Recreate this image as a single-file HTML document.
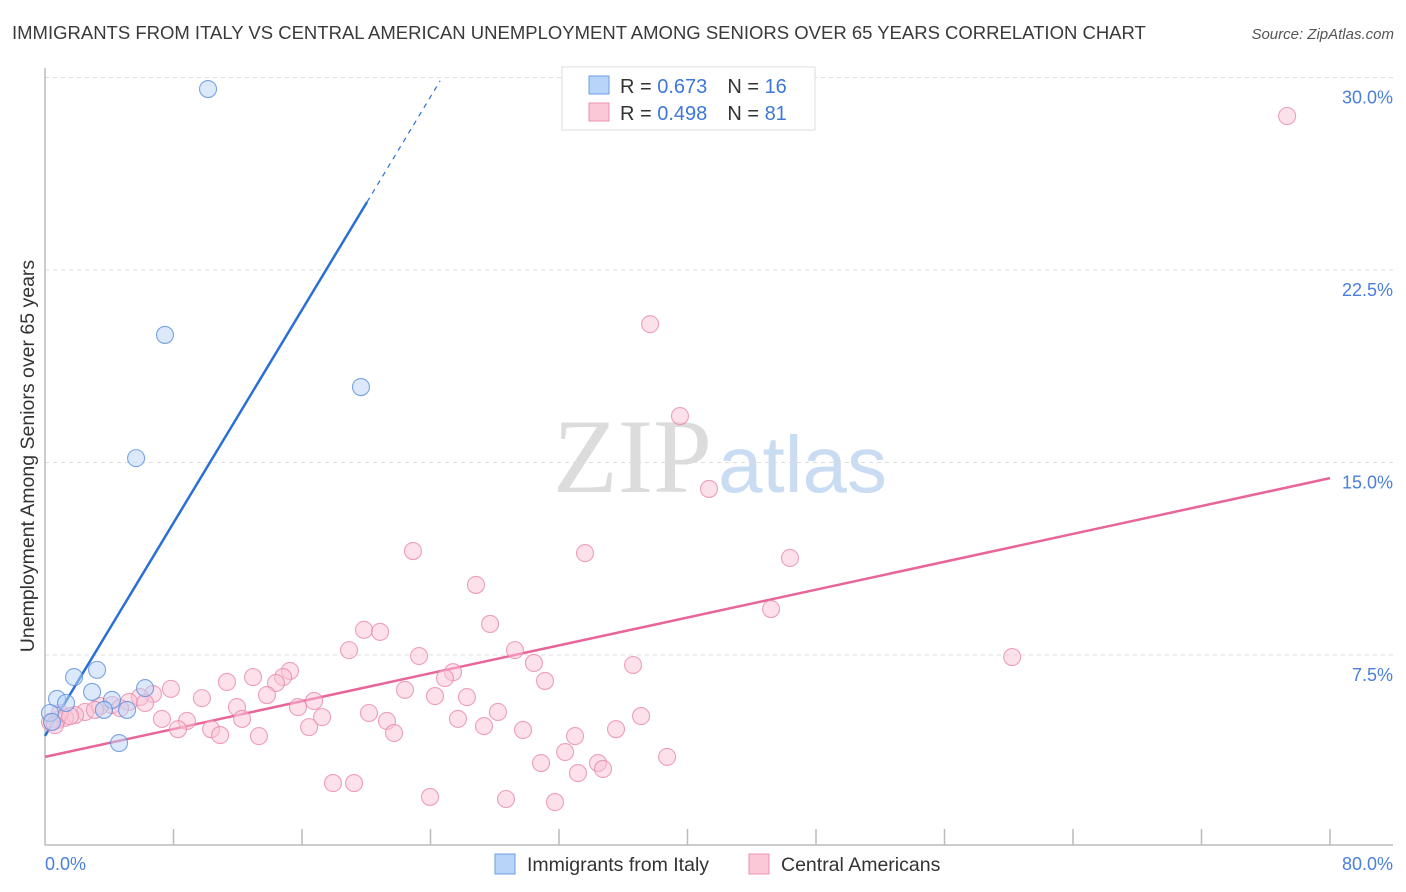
<!DOCTYPE html>
<html><head><meta charset="utf-8"><style>
body{margin:0;background:#fff;font-family:"Liberation Sans",sans-serif;}
svg{display:block}
</style></head><body>
<svg id="chart" width="1406" height="892" xmlns="http://www.w3.org/2000/svg">
<text x="12" y="39" font-size="18.5" fill="#3a3a3a">IMMIGRANTS FROM ITALY VS CENTRAL AMERICAN UNEMPLOYMENT AMONG SENIORS OVER 65 YEARS CORRELATION CHART</text>
<text x="1394" y="39" font-size="15" fill="#555" font-style="italic" text-anchor="end">Source: ZipAtlas.com</text>
<g>
<text x="553" y="492" font-family="Liberation Serif,serif" font-size="106" fill="#dcdcdc">ZIP</text>
<text x="718" y="492" font-size="80" fill="#c9dcf2">atlas</text>
</g>
<g id="grid"></g>
<g id="axes"></g>
<g id="lines"></g>
<g id="points"></g>
<g>
<rect x="562" y="67" width="253" height="63" fill="#fff" stroke="#ddd"/>
<rect x="589" y="76" width="20" height="18" fill="#b8d4f8" stroke="#6d9de0"/>
<rect x="589" y="103" width="20" height="18" fill="#fbc8d8" stroke="#ec90b0"/>
<text x="620" y="93" font-size="20" fill="#333">R = <tspan fill="#3d78d8">0.673</tspan><tspan dx="20">N = </tspan><tspan fill="#3d78d8">16</tspan></text>
<text x="620" y="120" font-size="20" fill="#333">R = <tspan fill="#3d78d8">0.498</tspan><tspan dx="20">N = </tspan><tspan fill="#3d78d8">81</tspan></text>
</g>
<g>
<rect x="495" y="854" width="20" height="20" fill="#b8d4f8" stroke="#6d9de0"/>
<text x="527" y="871" font-size="19.5" fill="#333">Immigrants from Italy</text>
<rect x="749" y="854" width="20" height="20" fill="#fbc8d8" stroke="#ec90b0"/>
<text x="781" y="871" font-size="19.5" fill="#333">Central Americans</text>
</g>
</svg>
<script>
const yTicks=[7.5,15,22.5,30];
const yTickLabels=["7.5%","15.0%","22.5%","30.0%"];
const xTicks=[8,16,24,32,40,48,56,64,72,80];
const xEndLabels=["0.0%","80.0%"];
const italyX=[10.15,7.47,5.67,19.67,3.24,1.81,0.75,1.31,2.93,4.17,3.67,5.11,6.23,4.61,0.31,0.44];
const italyY=[29.55,19.97,15.17,17.94,6.92,6.64,5.79,5.63,6.06,5.75,5.36,5.36,6.21,4.07,5.24,4.89];
const centralX=[77.33,37.67,39.53,41.34,22.91,33.62,46.38,26.83,45.20,27.71,19.86,20.86,60.21,18.93,23.29,29.26,30.44,36.61,25.40,24.90,31.13,15.25,14.82,14.38,12.95,11.33,22.41,24.28,26.27,6.72,7.84,5.91,5.23,4.17,3.42,13.82,16.75,9.77,11.95,15.75,28.20,25.71,17.25,12.27,7.28,8.84,20.17,21.29,37.11,35.55,27.33,29.76,16.44,10.34,10.90,8.28,13.32,21.73,33.00,32.38,38.73,30.88,34.43,34.74,33.18,17.93,19.24,23.97,28.70,31.75,2.49,1.87,1.25,0.75,0.31,0.93,3.11,4.67,6.23,1.56,0.62];
const centralY=[28.50,20.39,16.81,13.97,11.55,11.47,11.28,10.23,9.29,8.71,8.48,8.40,7.42,7.69,7.46,7.69,7.19,7.11,6.83,6.60,6.49,6.88,6.64,6.41,6.64,6.45,6.14,5.90,5.86,5.98,6.18,5.86,5.67,5.55,5.51,5.94,5.71,5.82,5.47,5.47,5.28,5.01,5.08,5.01,5.01,4.93,5.24,4.93,5.12,4.61,4.73,4.58,4.69,4.61,4.38,4.61,4.34,4.46,4.34,3.72,3.53,3.29,3.29,3.06,2.90,2.51,2.51,1.97,1.89,1.77,5.28,5.16,5.05,4.97,4.89,5.24,5.36,5.43,5.63,5.12,4.77];
const italyLine=[0,4.35,20.05,25.15,24.6];
const centralLine=[0,3.53,80,14.39];

const NS="http://www.w3.org/2000/svg";
const X0=45,X1=1330,Y0=847.5,Ypp=192.5/7.5;
const sx=v=>X0+v/80*(X1-X0);
const sy=v=>Y0-v*Ypp;
function mk(tag,attrs,parent){const e=document.createElementNS(NS,tag);for(const k in attrs)e.setAttribute(k,attrs[k]);document.getElementById(parent).appendChild(e);return e;}
yTicks.forEach((t,i)=>{
 const l=mk('line',{x1:45,x2:1393,y1:sy(t),y2:sy(t),stroke:'#dcdcdc','stroke-dasharray':'4,4'},'grid');
 
 
 const tx=mk('text',{x:1393,y:sy(t)+26,'font-size':18,fill:'#4a7fdc','text-anchor':'end'},'grid');
 tx.textContent=yTickLabels[i];
 
 
});
const ax=mk('line',{x1:45,x2:45,y1:68,y2:845,stroke:'#bbb','stroke-width':1.5},'axes');


const bx=mk('line',{x1:45,x2:1393,y1:845,y2:845,stroke:'#bbb','stroke-width':1.5},'axes');


xTicks.forEach(t=>{
 const l=mk('line',{x1:sx(t),x2:sx(t),y1:829,y2:845,stroke:'#bbb','stroke-width':1.5},'axes');
 
 
});
[[0,'start',45],[1,'end',1393]].forEach(([i,a,x])=>{
 const tx=mk('text',{x:x,y:870,'font-size':18,fill:'#4a7fdc','text-anchor':a},'axes');
 tx.textContent=xEndLabels[i];
 
 
});
const yt=mk('text',{x:0,y:0,'font-size':19.5,fill:'#333','text-anchor':'middle',transform:'translate(34,456) rotate(-90)'},'axes');
yt.textContent='Unemployment Among Seniors over 65 years';



function pts(xs,ys,fill,stroke,name){xs.forEach((x,i)=>{
 const c=mk('circle',{cx:sx(x),cy:sy(ys[i]),r:8.5,fill:fill,'fill-opacity':0.5,stroke:stroke,'stroke-width':1.1,'stroke-opacity':0.8},'points');
 
 
});}
pts(centralX,centralY,'#f9c3d5','#e98aab','central-american-point');
pts(italyX,italyY,'#b7d3f6','#5b8fdc','italy-point');

const slope=(italyLine[3]-italyLine[1])/(italyLine[2]-italyLine[0]);
const bl=mk('line',{x1:sx(italyLine[0]),y1:sy(italyLine[1]),x2:sx(italyLine[2]),y2:sy(italyLine[3]),stroke:'#2a6fd6','stroke-width':2.5},'lines');


const bd=mk('line',{x1:sx(italyLine[2]),y1:sy(italyLine[3]),x2:sx(italyLine[4]),y2:sy(italyLine[1]+slope*italyLine[4]),stroke:'#2a6fd6','stroke-width':1.2,'stroke-dasharray':'5,5'},'lines');


const pl=mk('line',{x1:sx(centralLine[0]),y1:sy(centralLine[1]),x2:sx(centralLine[2]),y2:sy(centralLine[3]),stroke:'#e8649a','stroke-width':2.5},'lines');


</script>
</body></html>
